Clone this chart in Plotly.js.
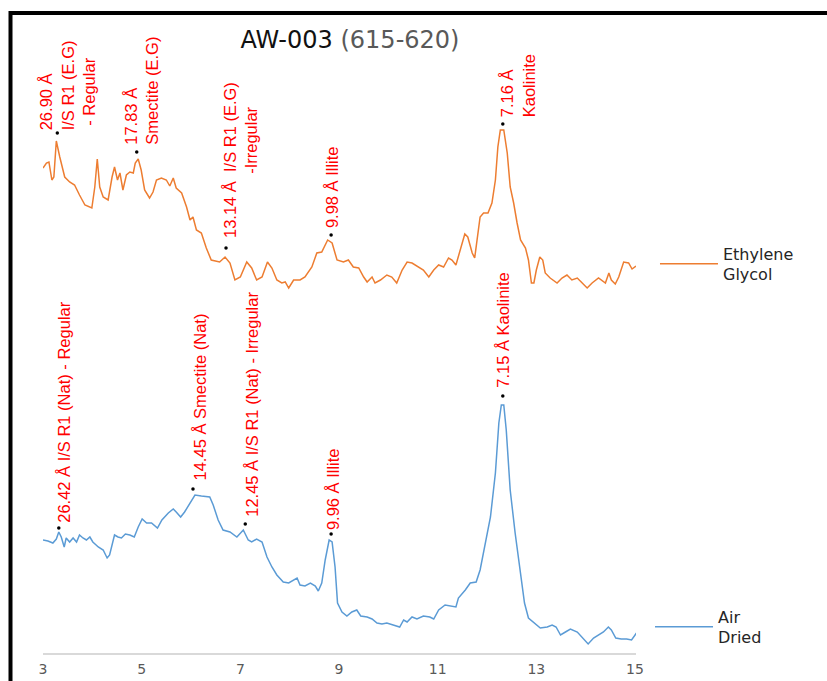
<!DOCTYPE html>
<html>
<head>
<meta charset="utf-8">
<script src="https://cdn.plot.ly/plotly-3.0.1.min.js"></script>
<style>
  html, body { margin: 0; padding: 0; background: #ffffff; }
  #chart { width: 827px; height: 681px; }
</style>
</head>
<body>
<div id="chart"></div>
<script>
// ---- Data (2θ in degrees, intensity in arbitrary offset units) ----
const egX = [3.00,3.07,3.12,3.18,3.22,3.27,3.34,3.44,3.54,3.64,
  3.74,3.85,3.99,4.05,4.10,4.15,4.22,4.32,4.40,4.45,
  4.51,4.56,4.62,4.69,4.76,4.83,4.87,4.93,4.99,5.06,
  5.16,5.23,5.30,5.40,5.50,5.57,5.64,5.70,5.81,5.91,
  5.98,6.04,6.11,6.21,6.31,6.41,6.58,6.69,6.79,6.89,
  7.00,7.13,7.23,7.33,7.44,7.55,7.64,7.74,7.84,7.91,
  7.98,8.08,8.21,8.31,8.45,8.55,8.65,8.77,8.86,8.96,
  9.09,9.19,9.29,9.40,9.50,9.57,9.67,9.73,9.84,9.97,
  10.07,10.17,10.28,10.38,10.48,10.61,10.71,10.82,10.92,11.02,
  11.12,11.22,11.29,11.37,11.46,11.55,11.61,11.70,11.75,11.80,
  11.86,11.93,12.02,12.10,12.17,12.22,12.27,12.34,12.41,12.47,
  12.54,12.61,12.68,12.78,12.84,12.90,12.95,13.00,13.07,13.13,
  13.18,13.28,13.42,13.52,13.62,13.72,13.83,13.93,14.03,14.13,
  14.26,14.40,14.47,14.52,14.60,14.67,14.77,14.87,14.94,15.02];
const egY = [485,490,491,473,476,512,496,476,471,468,
  458,448,445,466,494,466,456,453,476,486,
  473,480,463,478,481,480,490,494,483,463,
  455,461,473,475,473,467,475,465,460,446,
  433,436,423,420,405,393,391,396,390,373,
  376,391,385,373,376,391,385,373,370,371,
  365,373,373,376,386,400,401,413,410,393,
  391,393,386,385,376,371,376,370,373,378,
  376,370,383,391,390,386,383,376,383,388,
  386,395,393,388,403,419,416,400,395,416,
  436,440,440,450,473,506,523,523,500,466,
  450,430,413,405,393,370,370,383,396,393,
  380,375,370,375,378,373,375,370,365,370,
  375,370,380,373,369,376,391,390,384,387];

const adX = [3.00,3.10,3.20,3.27,3.32,3.37,3.43,3.47,3.54,3.61,
  3.68,3.74,3.81,3.88,3.95,4.01,4.12,4.22,4.30,4.35,
  4.45,4.52,4.59,4.67,4.76,4.85,4.93,5.01,5.10,5.20,
  5.32,5.41,5.54,5.64,5.70,5.79,5.87,5.98,6.08,6.21,
  6.38,6.45,6.55,6.65,6.79,6.93,7.06,7.16,7.23,7.33,
  7.44,7.54,7.64,7.74,7.87,7.98,8.08,8.15,8.21,8.31,
  8.42,8.52,8.58,8.65,8.72,8.80,8.86,8.92,8.97,9.06,
  9.16,9.26,9.36,9.44,9.57,9.67,9.77,9.87,9.97,10.11,
  10.23,10.31,10.38,10.48,10.58,10.71,10.84,10.92,11.02,11.15,
  11.26,11.37,11.42,11.56,11.66,11.78,11.86,11.97,12.07,12.17,
  12.24,12.29,12.34,12.39,12.47,12.57,12.68,12.76,12.84,12.95,
  13.08,13.22,13.32,13.40,13.49,13.59,13.69,13.83,13.93,14.05,
  14.16,14.26,14.36,14.46,14.52,14.61,14.72,14.83,14.93,15.03];
const adY = [113,112,110,114,121,116,106,115,111,115,
  111,118,115,113,116,111,106,103,95,98,
  118,116,115,119,118,116,126,134,130,130,
  125,133,140,144,141,136,141,150,158,157,
  156,148,133,123,121,116,123,113,111,114,
  111,96,86,78,71,70,73,75,68,67,
  70,67,62,70,93,113,111,86,50,41,
  37,41,43,37,36,34,30,29,30,28,
  26,33,31,36,34,37,36,34,43,48,
  47,46,55,63,70,71,83,110,136,180,
  230,248,248,223,163,120,76,50,35,30,
  25,26,28,26,18,21,24,21,16,9,
  15,18,21,26,23,15,14,14,13,20];

// Peak markers and labels
const egPeakX = [3.29, 4.90, 6.71, 8.84, 12.32];
const egPeakY = [520, 501, 405, 418, 529];
const egLabels = [
  "26.90 Å<br>I/S R1 (E.G)<br>\u00a0- Regular",
  "17.83 Å<br>Smectite (E.G)",
  "13.14 Å\u00a0\u00a0I/S R1 (E.G)<br>\u00a0\u00a0\u00a0\u00a0\u00a0\u00a0\u00a0\u00a0\u00a0\u00a0\u00a0\u00a0\u00a0\u00a0-Irregular",
  "9.98 Å Illite",
  "7.16 Å<br>Kaolinite"
];
const adPeakX = [3.32, 6.04, 7.10, 8.84, 12.32];
const adPeakY = [125, 164, 129, 119, 257];
const adLabels = [
  "26.42 Å I/S R1 (Nat) - Regular",
  "14.45 Å Smectite (Nat)",
  "12.45 Å I/S R1 (Nat) - Irregular",
  "9.96 Å Illite",
  "7.15 Å Kaolinite"
];
const seriesNames = ["Ethylene<br>Glycol", "Air<br>Dried"];
const tickValues = [3, 5, 7, 9, 11, 13, 15];

// ---- Styling / placement (not data) ----
const egShift = [[10, 1], [4, 5], [14, 8], [1, 5], [15, 5]];
const adShift = [[5, 3], [7, 7], [6, 5], [2, 2], [0, 6]];
const labelFont = {family: "Liberation Sans Narrow, Arial Narrow, Liberation Sans, Arial, sans-serif", size: 16.5, color: "#FF0000"};

const annotations = [];
function addLabels(xs, ys, labels, shifts) {
  for (let i = 0; i < xs.length; i++) {
    annotations.push({
      x: xs[i], y: ys[i], xref: "x", yref: "y",
      text: labels[i], showarrow: false, textangle: -90,
      xanchor: "center", yanchor: "bottom", align: "left",
      xshift: shifts[i][0], yshift: shifts[i][1],
      font: labelFont
    });
  }
}
addLabels(egPeakX, egPeakY, egLabels, egShift);
addLabels(adPeakX, adPeakY, adLabels, adShift);

const traces = [
  {x: egX, y: egY, type: "scatter", mode: "lines", name: seriesNames[0],
   line: {color: "#ED7D31", width: 1.5}, legend: "legend", cliponaxis: false},
  {x: adX, y: adY, type: "scatter", mode: "lines", name: seriesNames[1],
   line: {color: "#5B9BD5", width: 1.5}, legend: "legend2", cliponaxis: false},
  {x: egPeakX.concat(adPeakX), y: egPeakY.concat(adPeakY), type: "scatter", mode: "markers",
   marker: {color: "#000000", size: 3.5, symbol: "circle"}, showlegend: false, hoverinfo: "skip"}
];

const legendFont = {family: "DejaVu Sans, sans-serif", size: 16, color: "#262626"};

const layout = {
  width: 827, height: 681,
  margin: {l: 43, r: 191, t: 0, b: 28, autoexpand: false},
  paper_bgcolor: "#ffffff", plot_bgcolor: "#ffffff",
  title: {
    text: "AW-003 <span style='color:#595959'>(615-620)</span>",
    font: {family: "DejaVu Sans, sans-serif", size: 24, color: "#111111"},
    x: 0.4232, xref: "container", xanchor: "center",
    y: 0.9413, yref: "container", yanchor: "middle"
  },
  xaxis: {
    range: [3, 15.02], tickvals: tickValues, ticktext: tickValues.map(String),
    showgrid: false, zeroline: false, showline: true, linecolor: "#d9d9d9", linewidth: 1.5,
    ticks: "", tickfont: {family: "DejaVu Sans, sans-serif", size: 14, color: "#595959"},
    ticklabelstandoff: 3
  },
  yaxis: {range: [0, 653], visible: false, showgrid: false, zeroline: false},
  showlegend: true,
  legend: {
    x: 0.792, xref: "container", xanchor: "left",
    y: 0.6123, yref: "container", yanchor: "middle",
    font: legendFont, bgcolor: "rgba(0,0,0,0)", itemwidth: 58, valign: "middle"
  },
  legend2: {
    x: 0.786, xref: "container", xanchor: "left",
    y: 0.0793, yref: "container", yanchor: "middle",
    font: legendFont, bgcolor: "rgba(0,0,0,0)", itemwidth: 58, valign: "middle"
  },
  annotations: annotations,
  shapes: [{
    type: "path", xref: "paper", yref: "paper",
    path: "M -0.0548,-0.06 L -0.0548,0.9801 L 1.35,0.9801",
    line: {color: "#000000", width: 4}
  }]
};

Plotly.newPlot("chart", traces, layout, {staticPlot: true, displayModeBar: false});
</script>
</body>
</html>
